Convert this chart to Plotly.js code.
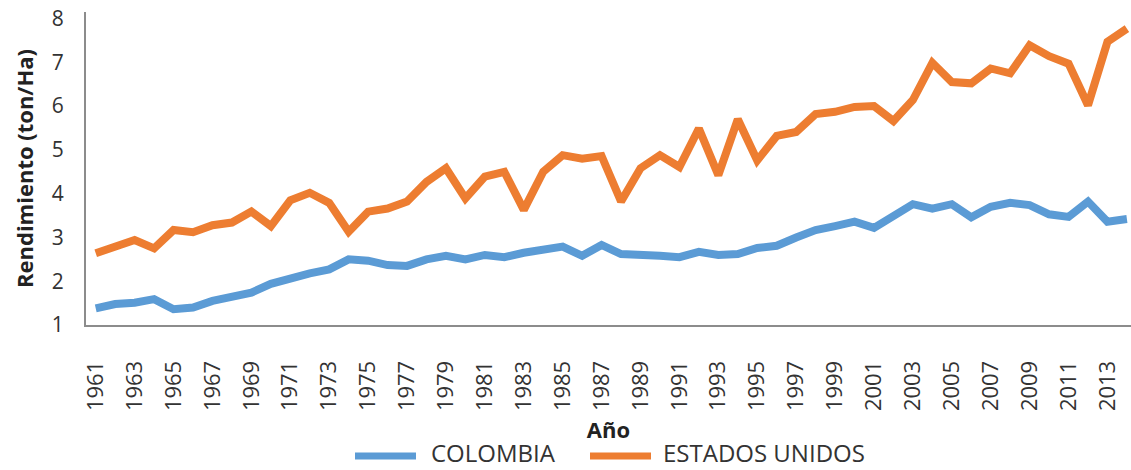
<!DOCTYPE html>
<html>
<head>
<meta charset="utf-8">
<script src="https://cdn.plot.ly/plotly-3.0.1.min.js"></script>
<style>html,body{margin:0;padding:0;background:#fff;}#chart{width:1131px;height:470px;}</style>
</head>
<body>
<div id="chart"></div>
<script>
const years = [1961,1962,1963,1964,1965,1966,1967,1968,1969,1970,1971,1972,1973,1974,1975,1976,1977,1978,1979,1980,1981,1982,1983,1984,1985,1986,1987,1988,1989,1990,1991,1992,1993,1994,1995,1996,1997,1998,1999,2000,2001,2002,2003,2004,2005,2006,2007,2008,2009,2010,2011,2012,2013,2014];
const colombia = [1.38,1.48,1.51,1.59,1.36,1.40,1.55,1.66,1.74,1.94,2.07,2.18,2.27,2.50,2.47,2.37,2.35,2.50,2.58,2.50,2.60,2.55,2.65,2.71,2.79,2.58,2.83,2.62,2.58,2.58,2.55,2.67,2.60,2.62,2.76,2.81,3.00,3.17,3.26,3.36,3.22,3.47,3.76,3.66,3.76,3.46,3.70,3.79,3.74,3.53,3.47,3.82,3.36,3.42];
const estadosUnidos = [2.64,2.80,2.94,2.75,3.17,3.12,3.28,3.34,3.59,3.26,3.85,4.02,3.79,3.13,3.59,3.66,3.82,4.27,4.58,3.89,4.39,4.50,3.63,4.50,4.88,4.80,4.86,3.82,4.58,4.88,4.61,5.49,4.42,5.70,4.76,5.32,5.41,5.82,5.87,5.98,6.00,5.66,6.14,6.99,6.55,6.52,6.86,6.75,7.39,7.14,6.97,6.02,7.47,7.77];
const tickYears = [1961,1963,1965,1967,1969,1971,1973,1975,1977,1979,1981,1983,1985,1987,1989,1991,1993,1995,1997,1999,2001,2003,2005,2007,2009,2011,2013];
const yTicks = [1,2,3,4,5,6,7,8];
const seriesNames = ['COLOMBIA','ESTADOS UNIDOS'];
const seriesColors = ['#5B9BD5','#ED7D31'];

const font = 'Open Sans, sans-serif';
const textColor = '#333333';

const traces = [
  {x: years, y: colombia, name: seriesNames[0], type: 'scatter', mode: 'lines',
   line: {color: seriesColors[0], width: 8, shape: 'linear'}, showlegend: false},
  {x: years, y: estadosUnidos, name: seriesNames[1], type: 'scatter', mode: 'lines',
   line: {color: seriesColors[1], width: 8, shape: 'linear'}, showlegend: false}
];

// Legend drawn below the plot (paper coordinates)
const plotL = 86, plotW = 1045, plotT = 12, plotH = 313;
const px = v => (v - plotL) / plotW;
const py = v => (plotT + plotH - v) / plotH;
const legendItems = [
  {name: seriesNames[0], color: seriesColors[0], x0: 355, x1: 416, tx: 430},
  {name: seriesNames[1], color: seriesColors[1], x0: 590, x1: 651, tx: 662}
];
const shapes = legendItems.map(it => ({
  type: 'line', xref: 'paper', yref: 'paper',
  x0: px(it.x0), x1: px(it.x1), y0: py(456), y1: py(456),
  line: {color: it.color, width: 7}
}));
const annotations = legendItems.map(it => ({
  xref: 'paper', yref: 'paper', x: px(it.tx), y: py(452), xanchor: 'left', yanchor: 'middle',
  text: it.name, showarrow: false, borderpad: 0, font: {family: font, size: 24, color: textColor}
}));

const layout = {
  width: 1131, height: 470,
  margin: {l: plotL, r: 0, t: plotT, b: 470 - plotT - plotH},
  paper_bgcolor: '#ffffff', plot_bgcolor: '#ffffff',
  font: {family: font, color: textColor},
  showlegend: false,
  shapes: shapes,
  annotations: annotations,
  xaxis: {
    range: [1960.5, 2014.21], tickmode: 'array', tickvals: tickYears,
    ticktext: tickYears.map(String), tickangle: -90,
    tickfont: {family: font, size: 22, color: textColor},
    showgrid: false, zeroline: false, showline: true, linecolor: '#8c8c8c', linewidth: 2,
    ticks: '', ticklabelstandoff: 25,
    title: {text: 'Año', font: {family: font, size: 22, color: '#222222', weight: 'bold'}, standoff: 12}
  },
  yaxis: {
    range: [1, 8.15], tickmode: 'array', tickvals: yTicks,
    tickfont: {family: font, size: 21, color: textColor},
    showgrid: false, zeroline: false, showline: true, linecolor: '#8c8c8c', linewidth: 2,
    ticks: '', ticklabelstandoff: 16,
    title: {text: 'Rendimiento (ton/Ha)', font: {family: font, size: 22, color: '#222222', weight: 'bold'}, standoff: 12}
  }
};

Plotly.newPlot('chart', traces, layout, {displayModeBar: false, staticPlot: true});
</script>
</body>
</html>
